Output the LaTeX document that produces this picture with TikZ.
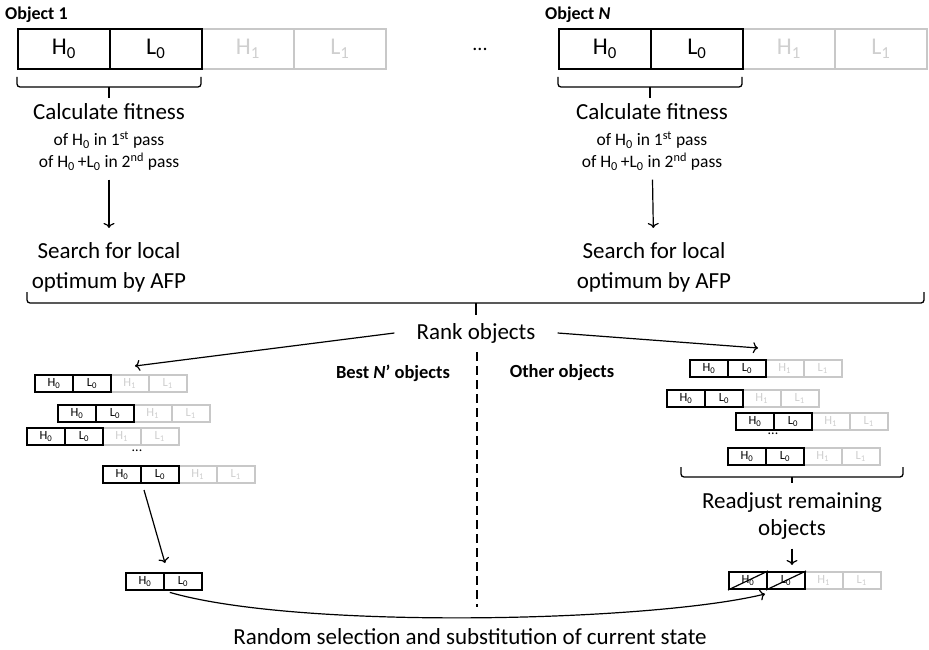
\documentclass[tikz,border=0pt]{standalone}
\usepackage{fontspec}
\setmainfont{Carlito}
\usetikzlibrary{arrows.meta}
\definecolor{lg}{HTML}{C8C8C8}
\definecolor{lgt}{HTML}{CFCFCF}
\tikzset{
 bigcell/.style={draw=black, line width=1.6pt, minimum width=92pt, minimum height=40pt, inner sep=0pt, anchor=north west, font=\fontsize{24}{24}\selectfont},
 biggray/.style={bigcell, draw=lg, text=lgt},
 smcell/.style={draw=black, line width=2pt, minimum width=38pt, minimum height=17pt, inner sep=0pt, anchor=north west, font=\fontsize{12.5}{12.5}\selectfont},
 smgray/.style={smcell, draw=lg, line width=1.6pt, text=lgt},
 arr/.style={-{To[length=5pt,width=11pt]}, line width=1.2pt},
 bracket/.style={line width=1.3pt, rounded corners=3pt},
 bigtxt/.style={font=\fontsize{23}{30}\selectfont, align=center, inner sep=0pt},
 smalltxt/.style={font=\fontsize{17.5}{22}\selectfont, align=center, inner sep=0pt},
 titletxt/.style={font=\bfseries\fontsize{18}{18}\selectfont, inner sep=0pt, anchor=west},
 boldtxt/.style={font=\bfseries\fontsize{18.5}{18.5}\selectfont, inner sep=0pt},
 strike/.style={line width=1.2pt},
}
% small object: name, x, y
\newcommand\sobjfull[3]{%
 \node[smgray] (#1c) at (#2+76,#3) {H\textsubscript{1}};
 \node[smgray] (#1d) at (#2+114,#3) {L\textsubscript{1}};
 \node[smcell] (#1a) at (#2,#3) {H\textsubscript{0}};
 \node[smcell] (#1b) at (#2+38,#3) {L\textsubscript{0}};
}
\begin{document}
\begin{tikzpicture}[x=1pt,y=-1pt]
\useasboundingbox (0,0) rectangle (929,650);

% ---- Object 1 ----
\node[titletxt] (t1) at (5,15) {Object 1};
\node[biggray] (a3) at (201,28) {H\textsubscript{1}};
\node[biggray] (a4) at (293,28) {L\textsubscript{1}};
\node[bigcell] (a1) at (17,28) {H\textsubscript{0}};
\node[bigcell] (a2) at (109,28) {L\textsubscript{0}};
\draw[bracket] (17,77) |- (201,87) -- (201,77);
\draw[line width=1.3pt] (109,87) -- (109,98);
\node[bigtxt] (c1) at (109,112) {Calculate fitness};
\node[smalltxt] (c1b) at (109,151) {of H\textsubscript{0} in 1\textsuperscript{st} pass\\of H\textsubscript{0}\,+L\textsubscript{0} in 2\textsuperscript{nd} pass};
\node[bigtxt] (s1) at (109,267) {Search for local\\optimum by AFP};
\draw[arr, shorten <=9pt, shorten >=14pt] (c1b) -- (s1);

% ---- dots ----
\node[font=\fontsize{20}{20}\selectfont, inner sep=0pt] (dots) at (480,49) {...};

% ---- Object N ----
\node[titletxt] (tn) at (545,15) {Object \textit{N}};
\node[biggray] (b3) at (742,28) {H\textsubscript{1}};
\node[biggray] (b4) at (834,28) {L\textsubscript{1}};
\node[bigcell] (b1) at (558,28) {H\textsubscript{0}};
\node[bigcell] (b2) at (650,28) {L\textsubscript{0}};
\draw[bracket] (558,77) |- (742,87) -- (742,77);
\draw[line width=1.3pt] (650,87) -- (650,98);
\node[bigtxt] (cn) at (652,112) {Calculate fitness};
\node[smalltxt] (cnb) at (652,151) {of H\textsubscript{0} in 1\textsuperscript{st} pass\\of H\textsubscript{0}\,+L\textsubscript{0} in 2\textsuperscript{nd} pass};
\node[bigtxt] (sn) at (654,267) {Search for local\\optimum by AFP};
\draw[arr, shorten <=9pt, shorten >=14pt] (cnb) -- (sn);

% ---- big bracket ----
\draw[bracket] (27,292) |- (924,303) -- (924,292);
\draw[line width=1.3pt] (476,303) -- (476,315);

% ---- rank ----
\node[bigtxt, inner xsep=22pt] (rank) at (476,333) {Rank objects};
\coordinate (lt) at (135,366);
\coordinate (rt) at (758,348);
\draw[arr] (rank.west) -- (lt);
\draw[arr] (rank.east) -- (rt);
\draw[line width=1.5pt, dash pattern=on 9pt off 5pt] (477,352) -- (477,607);
\node[boldtxt] (best) at (393,373) {Best \textit{N}’ objects};
\node[boldtxt] (other) at (562,373) {Other objects};

% ---- left stack ----
\sobjfull{l1}{34}{374}
\sobjfull{l2}{57}{404}
\sobjfull{l3}{26}{427}
\node[font=\fontsize{14}{14}\selectfont, inner sep=0pt] (ldots) at (137,451) {...};
\sobjfull{l5}{102}{465}

% ---- selected object ----
\node[smcell] (selA) at (125,572) {H\textsubscript{0}};
\node[smcell] (selB) at (163,572) {L\textsubscript{0}};
\draw[arr] ([xshift=2pt,yshift=-6pt]l5a.south east) -- ([yshift=9pt]selA.north east);

% ---- right stack ----
\sobjfull{r1}{689}{359}
\sobjfull{r2}{666}{389}
\sobjfull{r3}{735}{412}
\node[font=\fontsize{14}{14}\selectfont, inner sep=0pt] (rdots) at (773,434) {...};
\sobjfull{r5}{727}{447}
\draw[bracket] (681,467) |- (903,477) -- (903,467);
\draw[line width=1.3pt] (792,477) -- (792,483);
\node[bigtxt, font=\fontsize{23}{27}\selectfont] (ra) at (792,516) {Readjust remaining\\objects};
\coordinate (fa) at (792,565);
\draw[arr, shorten <=9pt] (ra.south) -- (fa);

% ---- final object ----
\sobjfull{f}{728}{571}
\draw[strike] (fa.south west) -- (fa.north east);
\draw[strike] (fb.south west) -- (fb.north east);

% ---- random selection ----
\draw[arr, shorten <=5pt] (selA.south east) .. controls (300,630) and (650,622) .. ([xshift=-3pt,yshift=-4pt]fa.south east);
\node[bigtxt] (rnd) at (470,637) {Random selection and substitution of current state};
\end{tikzpicture}
\end{document}
